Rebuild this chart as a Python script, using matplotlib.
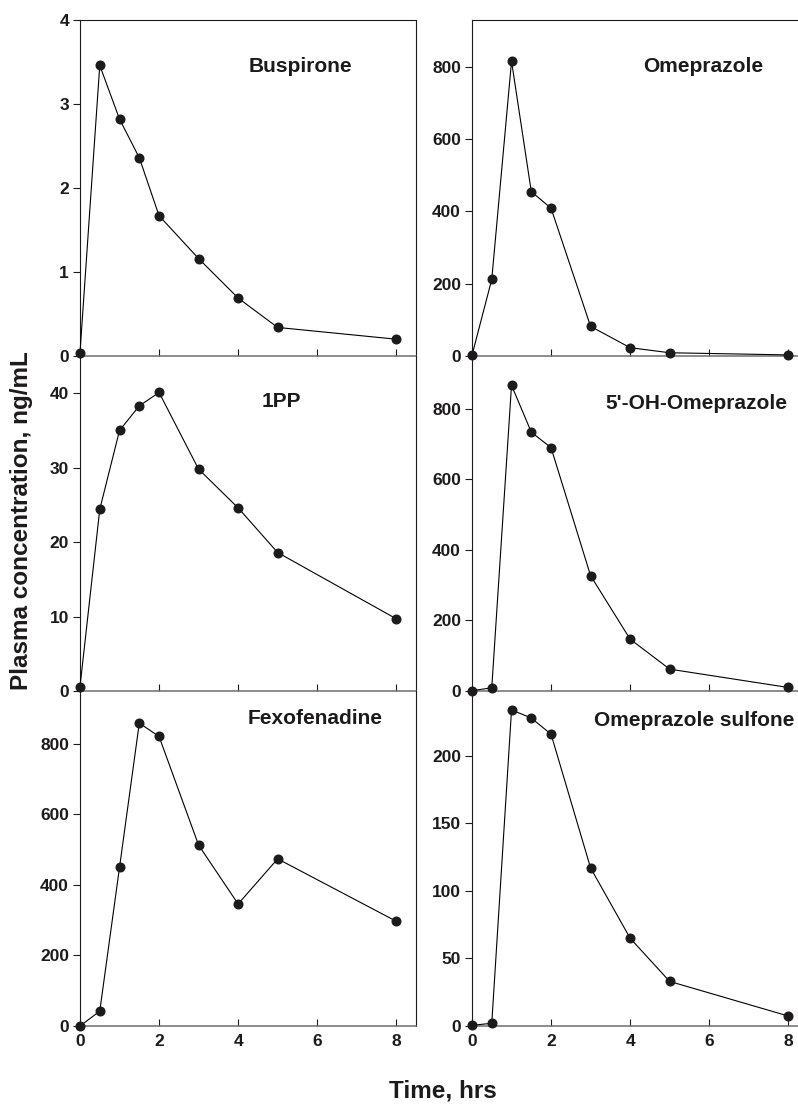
import matplotlib
matplotlib.use("Agg")
import matplotlib.pyplot as plt

plt.rcParams['font.family'] = ['Liberation Sans', 'DejaVu Sans']
plt.rcParams['font.weight'] = 'bold'

# sampling times (hrs)
times = [0, 0.5, 1, 1.5, 2, 3, 4, 5, 8]

# plasma concentrations, ng/mL
buspirone = [0.04, 3.46, 2.82, 2.36, 1.67, 1.16, 0.69, 0.34, 0.20]
omeprazole = [2, 212, 816, 455, 409, 82, 23, 9, 3]
pp1 = [0.6, 24.4, 35.0, 38.3, 40.1, 29.8, 24.6, 18.6, 9.7]
oh_omeprazole = [1, 9, 867, 734, 690, 327, 147, 62, 10]
fexofenadine = [0, 42, 450, 859, 821, 513, 346, 474, 297]
sulfone = [0.5, 2, 234, 228, 216, 117, 65, 33, 7.4]

names = ["Buspirone", "Omeprazole", "1PP", "5'-OH-Omeprazole",
         "Fexofenadine", "Omeprazole sulfone"]
series = [buspirone, omeprazole, pp1, oh_omeprazole, fexofenadine, sulfone]
ytops = [4, 930, 45, 950, 950, 248]
yticks = [[0, 1, 2, 3, 4], [0, 200, 400, 600, 800], [0, 10, 20, 30, 40],
          [0, 200, 400, 600, 800], [0, 200, 400, 600, 800],
          [0, 50, 100, 150, 200]]
xticks = [0, 2, 4, 6, 8]

# where the name sits inside each panel (axes fraction)
name_pos = [(0.655, 0.863, 'center'), (0.6875, 0.863, 'center'),
            (0.598, 0.864, 'center'), (0.667, 0.857, 'center'),
            (0.699, 0.919, 'center'), (0.363, 0.913, 'left')]

W, H = 798, 1104
fig = plt.figure(figsize=(W / 100, H / 100), dpi=100)

col_left = [80, 472]
col_w = 336
row_top = [20, 356, 691]
row_bot = [356, 691, 1026]
ink = '#1c1a1b'

for i in range(6):
    r, c = divmod(i, 2)
    x0 = col_left[c] / W
    y0 = 1 - row_bot[r] / H
    h = (row_bot[r] - row_top[r]) / H
    ax = fig.add_axes([x0, y0, col_w / W, h])
    ax.plot(times, series[i], color='black', lw=0.8, marker='o', ms=6.2,
            mfc=ink, mec=ink, clip_on=False, zorder=5)
    ax.set_xlim(0, 8.5)
    ax.set_ylim(0, ytops[i])
    ax.set_yticks(yticks[i])
    ax.set_xticks(xticks)
    ax.tick_params(axis='y', direction='out', length=5, width=0.8,
                   labelsize=12.5, colors=ink, pad=3)
    ax.tick_params(axis='x', direction='in', length=5, width=0.8,
                   labelsize=12.5, colors=ink, pad=6)
    if r < 2:
        ax.tick_params(axis='x', labelbottom=False)
        ax.set_xticks([2, 4, 6, 8])
    for lab in ax.get_xticklabels() + ax.get_yticklabels():
        lab.set_fontweight('bold')
    ax.spines['bottom'].set_color('#6e6e6e')
    ax.spines['bottom'].set_linewidth(1.1)
    for s in ['left', 'right', 'top']:
        ax.spines[s].set_color(ink)
        ax.spines[s].set_linewidth(0.8)
    if r > 0:
        ax.spines['top'].set_visible(False)
    ax.patch.set_alpha(0)
    px, py, ha = name_pos[i]
    ax.text(px, py, names[i], transform=ax.transAxes, ha=ha, va='center',
            fontsize=15, fontweight='bold', color=ink)

fig.text(22 / W, 1 - 521 / H, "Plasma concentration, ng/mL", rotation=90,
         ha='center', va='center', fontsize=17.5, fontweight='bold', color=ink)
fig.text(443 / W, 1 - 1091 / H, "Time, hrs", ha='center', va='center',
         fontsize=17.5, fontweight='bold', color=ink)

fig.savefig("out.png", dpi=100)
